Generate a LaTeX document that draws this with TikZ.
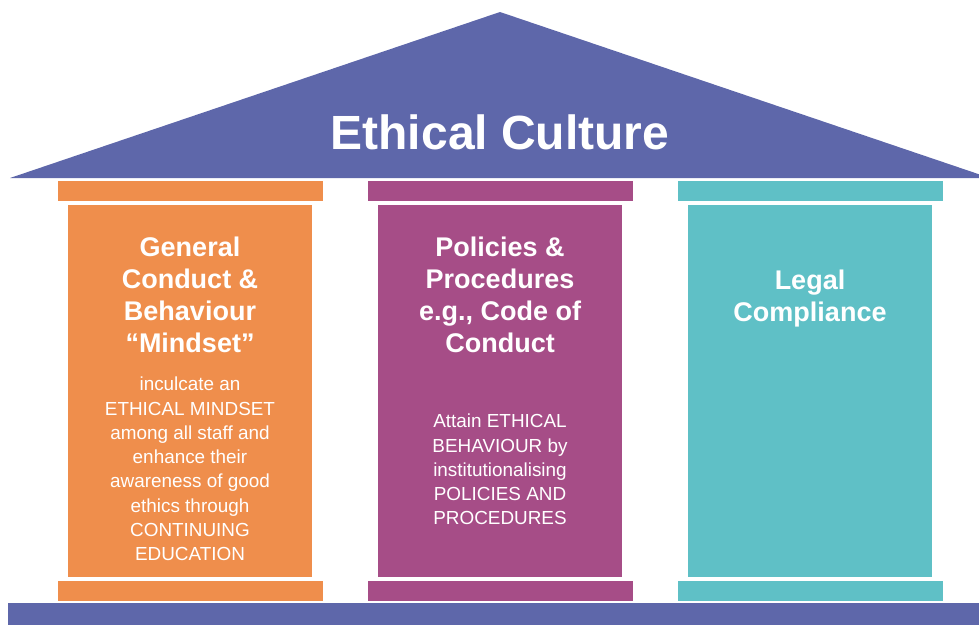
\documentclass[tikz,border=0pt]{standalone}
\usepackage{fontspec}
\setmainfont{Liberation Sans}
\usepackage{tikz}
\usetikzlibrary{positioning}
\definecolor{roofblue}{RGB}{94,103,170}
\definecolor{pillarorange}{RGB}{239,142,76}
\definecolor{pillarpurple}{RGB}{166,77,135}
\definecolor{pillarteal}{RGB}{95,192,198}
\tikzstyle{shaft} = [inner sep=0pt,
	minimum width = 244pt,
	minimum height = 372pt]
\tikzstyle{capital} = [inner sep=0pt, draw=white, line width=0.5pt,
	minimum width = 266pt,
	minimum height = 20.5pt]
\tikzstyle{heading} = [inner sep=0pt, text=white, align=center,
	font=\fontsize{27}{32}\selectfont\bfseries]
\tikzstyle{body} = [inner sep=0pt, text=white, align=center,
	font=\fontsize{18.9}{24.3}\selectfont]
\newcommand{\drawpillar}[3]{\node (#1) [shaft, fill=#3] at (#2,391) {};
	\node (#1top) [capital, fill=#3, above=3.5pt of #1] {};
	\node (#1foot) [capital, fill=#3, below=3pt of #1] {}}

\begin{document}
\begin{tikzpicture}[x=1pt, y=-1pt]
	\useasboundingbox (0,0) rectangle (979,625);
	\clip (0,0) rectangle (979,625);
	
	% roof and ground
	\fill[roofblue] (10,178) -- (500,12) -- (990,178) -- cycle;
	\node (title) [anchor=base, inner sep=0pt, text=white,
		font=\fontsize{48}{56}\selectfont\bfseries] at (500,149) {Ethical Culture};
	\node (base) [fill=roofblue, inner sep=0pt, minimum width=984pt,
		minimum height=22pt, anchor=north west] at (8,603) {};
	
	\drawpillar{conduct}{190}{pillarorange};
	\drawpillar{policies}{500}{pillarpurple};
	\drawpillar{legal}{810}{pillarteal};
	
	\node (conducthead) [heading, below=32pt of conduct.north]
		{General\\Conduct \&\\Behaviour\\“Mindset”};
	\node (conducttext) [body, below=172pt of conduct.north]
		{inculcate an\\ETHICAL MINDSET\\among all staff and\\enhance their\\awareness of good\\ethics through\\CONTINUING\\EDUCATION};
	
	\node (policieshead) [heading, below=32pt of policies.north]
		{Policies \&\\Procedures\\e.g., Code of\\Conduct};
	\node (policiestext) [body, below=209pt of policies.north]
		{Attain ETHICAL\\BEHAVIOUR by\\institutionalising\\POLICIES AND\\PROCEDURES};
	
	\node (legalhead) [heading, below=65pt of legal.north]
		{Legal\\Compliance};
\end{tikzpicture}
\end{document}
